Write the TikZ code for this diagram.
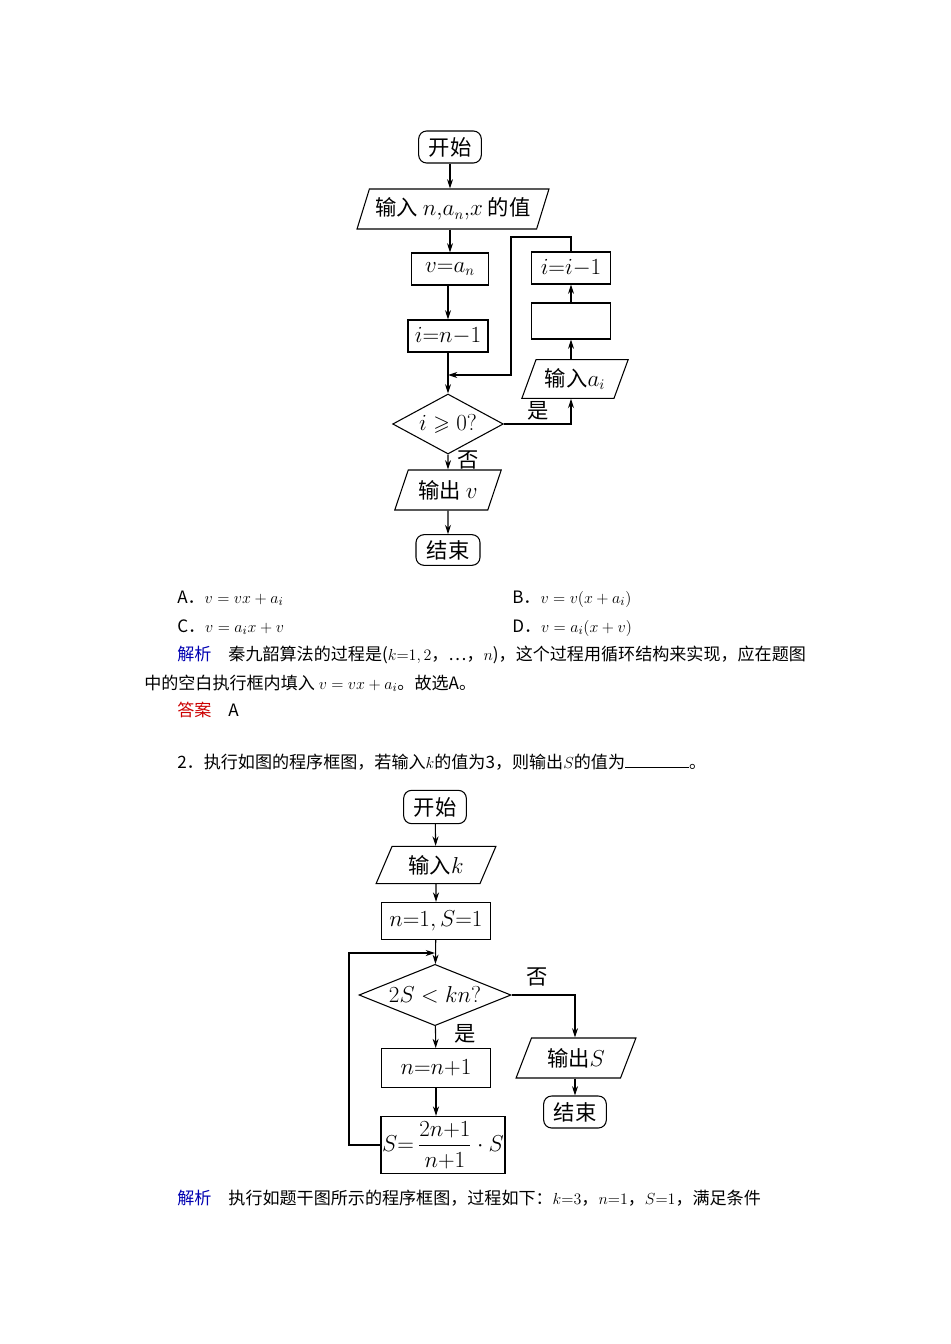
\documentclass[tikz,border=0pt]{standalone}
\usepackage{amsmath,amssymb}
\usepackage{fontspec}
\setmainfont{Noto Sans CJK SC}
\usetikzlibrary{shapes.geometric,arrows.meta}
\begin{document}
\begin{tikzpicture}[x=0.75pt,y=-0.75pt,
  every node/.style={inner sep=0pt},
  fc/.style={font=\fontsize{16}{19}\selectfont},
  bx/.style={draw,fc,line width=0.8pt},
  term/.style={bx,rounded corners=6pt},
  io/.style={bx,trapezium,trapezium left angle=63,trapezium right angle=117,trapezium stretches=true},
  dec/.style={bx,diamond},
  arr/.style={line width=0.8pt,-{Stealth[length=7pt,width=4.5pt]}},
  tx/.style={anchor=base west,font=\fontsize{12.8}{15}\selectfont},
  lab/.style={fc}]
\useasboundingbox[fill=white] (0,0) rectangle (950,1344);
% ---- chart 1
\node[term,minimum width=47pt,minimum height=24pt] (s1) at (450,147) {开始};
\node[io,minimum width=144pt,minimum height=30pt] (in1) at (453,209) {输入 $n{,}a_n{,}x$ 的值};
\node[bx,minimum width=58pt,minimum height=24pt] (v) at (450,269) {$v{=}a_n$};
\node[bx,minimum width=60pt,minimum height=24pt] (i1) at (448,336) {$i{=}n{-}1$};
\node[dec,minimum width=83pt,minimum height=45pt,aspect=1.83] (d1) at (448,424) {$i\geqslant 0?$};
\node[io,minimum width=80pt,minimum height=29pt] (ina) at (575,379) {输入$a_i$};
\node[bx,minimum width=59pt,minimum height=27pt] (blank) at (571,321) {};
\node[bx,minimum width=59pt,minimum height=24pt] (ii) at (571,268) {$i{=}i{-}1$};
\node[io,minimum width=80pt,minimum height=30pt] (out1) at (448,490) {输出 $v$};
\node[term,minimum width=48pt,minimum height=23pt] (e1) at (448,550) {结束};
\coordinate (m1) at (448,375);
\coordinate (c1) at (511,237);
\coordinate (c2) at (571,237);
\coordinate (c3) at (511,375);
\coordinate (y1) at (571,424);
\draw[arr] (s1) -- (s1 |- in1.north);
\draw[arr] (in1.south -| v) -- (v);
\draw[arr] (v.south -| i1) -- (i1);
\draw[arr] (i1) -- (d1);
\draw[arr] (ii.north) -- (c2) -- (c1) -- (c3) -- (m1);
\draw[arr] (d1.east) -- (y1) -- (ina.south -| y1);
\draw[arr] (ina.north -| blank) -- (blank);
\draw[arr] (blank) -- (ii);
\draw[arr] (d1) -- (out1);
\draw[arr] (out1) -- (e1);
\node[lab] (yes1) at (538,411) {是};
\node[lab] (no1) at (468,460) {否};
% ---- text
\node[tx] (ta) at (177,603) {A．$v=vx+a_i$};
\node[tx] (tb) at (512,603) {B．$v=v(x+a_i)$};
\node[tx] (tc) at (177,632) {C．$v=a_ix+v$};
\node[tx] (td) at (512,632) {D．$v=a_i(x+v)$};
\node[tx] (j1) at (177,660) {{\color{blue!70!black}解析}\quad 秦九韶算法的过程是($k{=}1,2$，…，$n$)，这个过程用循环结构来实现，应在题图};
\node[tx] (j2) at (144,689) {中的空白执行框内填入 $v=vx+a_i$。故选A。};
\node[tx] (ans) at (177,716) {{\color{red!80!black}答案}\quad A};
\node[tx] (q2) at (177,768) {2．执行如图的程序框图，若输入$k$的值为3，则输出$S$的值为\rule{48pt}{0.4pt}。};
% ---- chart 2
\node[term,minimum width=47pt,minimum height=25pt] (s2) at (435,807) {开始};
\node[io,minimum width=90pt,minimum height=28pt] (in2) at (436,865) {输入$k$};
\node[bx,minimum width=82pt,minimum height=28pt] (ns) at (436,921) {$n{=}1,S{=}1$};
\node[dec,minimum width=114pt,minimum height=46pt,aspect=2.5] (d2) at (435,995) {$2S<kn?$};
\node[bx,minimum width=82pt,minimum height=29pt] (nn) at (436,1068) {$n{=}n{+}1$};
\node[bx,minimum width=93pt,minimum height=43pt] (sb) at (443,1145) {$S{=}\,\dfrac{2n{+}1}{n{+}1}\cdot S$};
\node[io,minimum width=90pt,minimum height=30pt] (out2) at (576,1058) {输出$S$};
\node[term,minimum width=47pt,minimum height=24pt] (e2) at (575,1112) {结束};
\coordinate (m2) at (435,953);
\coordinate (l1) at (349,1145);
\coordinate (l2) at (349,953);
\coordinate (r1) at (575,995);
\draw[arr] (s2) -- (in2);
\draw[arr] (in2) -- (ns);
\draw[arr] (ns) -- (d2);
\draw[arr] (d2) -- (nn);
\draw[arr] (nn) -- (nn |- sb.north);
\draw[arr] (sb.west) -- (l1) -- (l2) -- (m2);
\draw[arr] (d2.east) -- (r1) -- (out2.north -| r1);
\draw[arr] (out2.south -| e2) -- (e2);
\node[lab] (no2) at (537,977) {否};
\node[lab] (yes2) at (465,1034) {是};
\node[tx] (j3) at (177,1204) {{\color{blue!70!black}解析}\quad 执行如题干图所示的程序框图，过程如下：$k{=}3$，$n{=}1$，$S{=}1$，满足条件};
\end{tikzpicture}
\end{document}
